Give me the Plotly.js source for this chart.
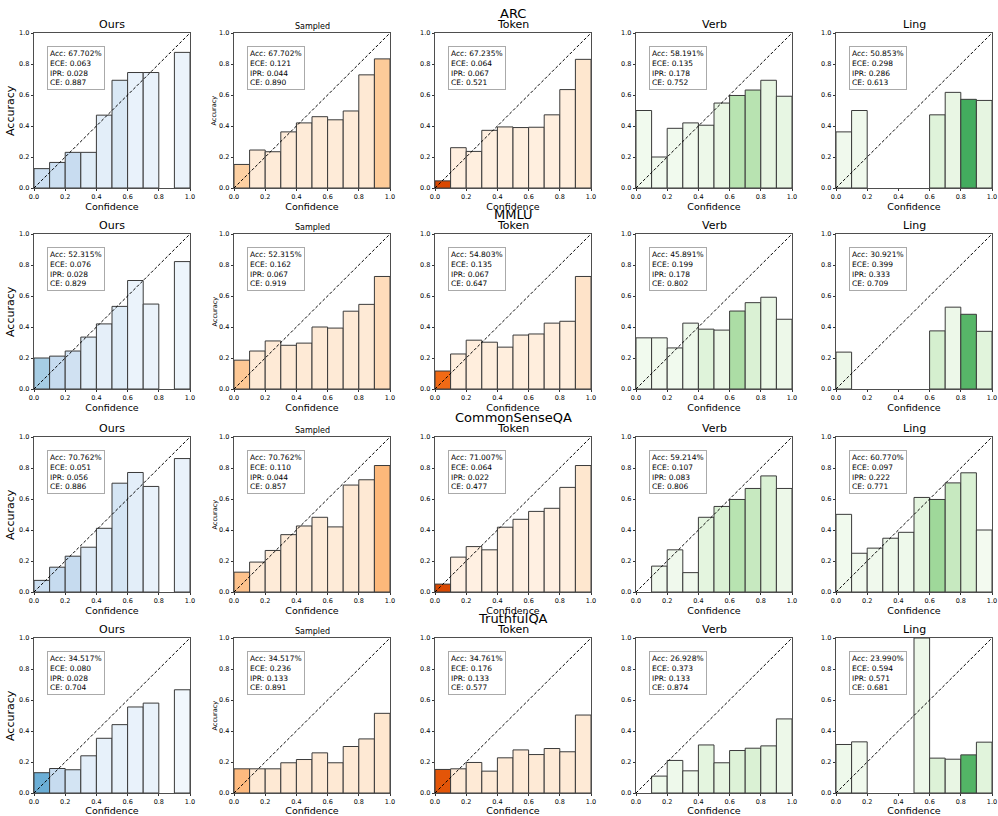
<!DOCTYPE html>
<html>
<head>
<meta charset="utf-8">
<script src="https://cdn.plot.ly/plotly-3.0.1.min.js"></script>
<style>html,body{margin:0;padding:0;background:#fff;}#chart{width:998px;height:816px;}</style>
</head>
<body>
<div id="chart"></div>
<script>
// ---------- DATA ----------
const methods = ['Ours', 'Sampled', 'Token', 'Verb', 'Ling'];
const datasets = ['ARC', 'MMLU', 'CommonSenseQA', 'TruthfulQA'];
const binCenters = [0.05, 0.15, 0.25, 0.35, 0.45, 0.55, 0.65, 0.75, 0.85, 0.95];
const ticks = [0, 0.2, 0.4, 0.6, 0.8, 1.0];

// bin accuracies, one row per method (Ours, Sampled, Token, Verb, Ling)
const arcAcc = [
  [0.125, 0.165, 0.23, 0.23, 0.47, 0.695, 0.745, 0.745, null, 0.875],
  [0.152, 0.245, 0.234, 0.362, 0.42, 0.46, 0.44, 0.497, 0.73, 0.833],
  [0.046, 0.26, 0.236, 0.372, 0.394, 0.39, 0.392, 0.472, 0.635, 0.83],
  [0.5, 0.2, 0.385, 0.42, 0.405, 0.548, 0.597, 0.632, 0.695, 0.592],
  [0.362, 0.5, null, null, null, null, 0.472, 0.617, 0.572, 0.565]
];
const mmluAcc = [
  [0.2, 0.212, 0.245, 0.335, 0.42, 0.533, 0.7, 0.548, null, 0.822],
  [0.186, 0.245, 0.31, 0.282, 0.296, 0.4, 0.393, 0.502, 0.546, 0.726],
  [0.116, 0.226, 0.315, 0.302, 0.27, 0.348, 0.355, 0.425, 0.437, 0.726],
  [0.33, 0.33, 0.265, 0.425, 0.386, 0.38, 0.503, 0.557, 0.592, 0.45],
  [0.238, null, null, null, null, null, 0.375, 0.528, 0.482, 0.372]
];
const csqaAcc = [
  [0.075, 0.16, 0.231, 0.289, 0.411, 0.702, 0.771, 0.681, null, 0.861],
  [0.128, 0.193, 0.268, 0.37, 0.426, 0.482, 0.42, 0.69, 0.724, 0.816],
  [0.051, 0.225, 0.293, 0.272, 0.418, 0.469, 0.52, 0.54, 0.675, 0.816],
  [null, 0.167, 0.272, 0.125, 0.482, 0.552, 0.597, 0.668, 0.749, 0.668],
  [0.501, 0.25, 0.283, 0.347, 0.385, 0.61, 0.597, 0.704, 0.769, 0.4]
];
const tqaAcc = [
  [0.131, 0.158, 0.15, 0.24, 0.353, 0.441, 0.555, 0.58, null, 0.666],
  [0.156, 0.156, 0.156, 0.195, 0.216, 0.259, 0.195, 0.3, 0.349, 0.514],
  [0.152, 0.156, 0.197, 0.141, 0.227, 0.278, 0.248, 0.287, 0.266, 0.503],
  [null, 0.109, 0.21, 0.143, 0.31, 0.195, 0.274, 0.289, 0.304, 0.478],
  [0.313, 0.33, null, null, null, 1.0, 0.225, 0.218, 0.246, 0.328]
];

// estimated share of samples per bin (drives the colour map shade)
const arcShare = [
  [0.22, 0.22, 0.24, 0.12, 0.1, 0.15, 0.07, 0.07, null, 0.06],
  [0.25, 0.08, 0.08, 0.08, 0.08, 0.08, 0.08, 0.08, 0.1, 0.27],
  [0.75, 0.05, 0.05, 0.05, 0.05, 0.05, 0.05, 0.05, 0.06, 0.12],
  [0.04, 0.04, 0.04, 0.04, 0.07, 0.1, 0.3, 0.3, 0.12, 0.11],
  [0.05, 0.05, null, null, null, null, 0.15, 0.1, 0.62, 0.12]
];
const mmluShare = [
  [0.35, 0.25, 0.2, 0.12, 0.09, 0.12, 0.06, 0.06, null, 0.05],
  [0.28, 0.09, 0.09, 0.09, 0.09, 0.09, 0.09, 0.09, 0.09, 0.18],
  [0.62, 0.06, 0.06, 0.06, 0.06, 0.06, 0.06, 0.06, 0.06, 0.14],
  [0.04, 0.04, 0.04, 0.06, 0.15, 0.09, 0.34, 0.17, 0.09, 0.07],
  [0.07, null, null, null, null, null, 0.19, 0.07, 0.57, 0.14]
];
const csqaShare = [
  [0.22, 0.25, 0.25, 0.13, 0.1, 0.17, 0.1, 0.07, null, 0.07],
  [0.3, 0.08, 0.08, 0.08, 0.08, 0.08, 0.08, 0.1, 0.1, 0.34],
  [0.75, 0.04, 0.04, 0.04, 0.04, 0.04, 0.04, 0.04, 0.05, 0.12],
  [null, 0.05, 0.05, 0.05, 0.13, 0.17, 0.3, 0.25, 0.17, 0.07],
  [0.04, 0.04, 0.05, 0.06, 0.06, 0.13, 0.38, 0.25, 0.17, 0.03]
];
const tqaShare = [
  [0.5, 0.25, 0.18, 0.1, 0.08, 0.08, 0.07, 0.07, null, 0.03],
  [0.33, 0.1, 0.1, 0.1, 0.1, 0.1, 0.1, 0.1, 0.1, 0.12],
  [0.7, 0.09, 0.09, 0.09, 0.09, 0.09, 0.09, 0.09, 0.09, 0.09],
  [null, 0.06, 0.06, 0.06, 0.13, 0.12, 0.16, 0.17, 0.12, 0.07],
  [0.06, 0.04, null, null, null, 0.07, 0.16, 0.1, 0.58, 0.14]
];

// summary metrics per method (Ours, Sampled, Token, Verb, Ling)
const arcMetricAcc = ['67.702', '67.702', '67.235', '58.191', '50.853'];
const arcEce = ['0.063', '0.121', '0.064', '0.135', '0.298'];
const arcIpr = ['0.028', '0.044', '0.067', '0.178', '0.286'];
const arcCe = ['0.887', '0.890', '0.521', '0.752', '0.613'];
const mmluMetricAcc = ['52.315', '52.315', '54.803', '45.891', '30.921'];
const mmluEce = ['0.076', '0.162', '0.135', '0.199', '0.399'];
const mmluIpr = ['0.028', '0.067', '0.067', '0.178', '0.333'];
const mmluCe = ['0.829', '0.919', '0.647', '0.802', '0.709'];
const csqaMetricAcc = ['70.762', '70.762', '71.007', '59.214', '60.770'];
const csqaEce = ['0.051', '0.110', '0.064', '0.107', '0.097'];
const csqaIpr = ['0.056', '0.044', '0.022', '0.083', '0.222'];
const csqaCe = ['0.886', '0.857', '0.477', '0.806', '0.771'];
const tqaMetricAcc = ['34.517', '34.517', '34.761', '26.928', '23.990'];
const tqaEce = ['0.080', '0.236', '0.176', '0.373', '0.594'];
const tqaIpr = ['0.028', '0.133', '0.133', '0.133', '0.571'];
const tqaCe = ['0.704', '0.891', '0.577', '0.874', '0.681'];

// ---------- STYLE ----------
const blues = [[0,'#f7fbff'],[0.125,'#deebf7'],[0.25,'#c6dbef'],[0.375,'#9ecae1'],[0.5,'#6baed6'],[0.625,'#4292c6'],[0.75,'#2171b5'],[0.875,'#08519c'],[1,'#08306b']];
const oranges = [[0,'#fff5eb'],[0.125,'#fee6ce'],[0.25,'#fdd0a2'],[0.375,'#fdae6b'],[0.5,'#fd8d3c'],[0.625,'#f16913'],[0.75,'#d94801'],[0.875,'#a63603'],[1,'#7f2704']];
const greens = [[0,'#f7fcf5'],[0.125,'#e5f5e0'],[0.25,'#c7e9c0'],[0.375,'#a1d99b'],[0.5,'#74c476'],[0.625,'#41ab5d'],[0.75,'#238b45'],[0.875,'#006d2c'],[1,'#00441b']];
const scales = [blues, oranges, oranges, greens, greens];
const titleSizes = [11, 8, 11, 11, 11];

const accRows = [arcAcc, mmluAcc, csqaAcc, tqaAcc];
const shareRows = [arcShare, mmluShare, csqaShare, tqaShare];
const mAcc = [arcMetricAcc, mmluMetricAcc, csqaMetricAcc, tqaMetricAcc];
const mEce = [arcEce, mmluEce, csqaEce, tqaEce];
const mIpr = [arcIpr, mmluIpr, csqaIpr, tqaIpr];
const mCe = [arcCe, mmluCe, csqaCe, tqaCe];

const W = 998, H = 816;
const colLeft = [34, 234, 435, 636, 836];
const rowTop = [33, 234, 437, 638];
const pw = 156, ph = 155;

const FONT = 'DejaVu Sans, Arial, sans-serif';
const traces = [];
const annotations = [];
const layout = {
  width: W, height: H,
  margin: {l: 0, r: 0, t: 0, b: 0},
  paper_bgcolor: '#fff', plot_bgcolor: '#fff',
  showlegend: false,
  font: {family: FONT, color: '#000'},
  annotations: annotations
};

let k = 0;
for (let r = 0; r < 4; r++) {
  for (let c = 0; c < 5; c++) {
    k++;
    const xa = 'x' + (k === 1 ? '' : k);
    const ya = 'y' + (k === 1 ? '' : k);
    const xk = 'xaxis' + (k === 1 ? '' : k);
    const yk = 'yaxis' + (k === 1 ? '' : k);
    const axCommon = {
      range: [0, 1], tickvals: ticks, tickformat: '.1f',
      ticks: 'outside', ticklen: 2.5, tickwidth: 0.8, tickcolor: '#000',
      tickfont: {size: 6.5, family: FONT, color: '#000'},
      showgrid: false, zeroline: false,
      showline: true, mirror: true, linecolor: '#222', linewidth: 0.8,
      fixedrange: true, automargin: false
    };
    layout[xk] = Object.assign({}, axCommon, {
      domain: [colLeft[c] / W, (colLeft[c] + pw) / W], anchor: ya,
      title: {text: 'Confidence', standoff: 0, font: {size: 9.5, family: FONT, color: '#000'}}
    });
    layout[yk] = Object.assign({}, axCommon, {
      domain: [1 - (rowTop[r] + ph) / H, 1 - rowTop[r] / H], anchor: xa
    });

    traces.push({
      type: 'bar', x: binCenters, y: accRows[r][c], width: 0.1,
      xaxis: xa, yaxis: ya,
      marker: {
        color: shareRows[r][c], colorscale: scales[c], cmin: 0, cmax: 1,
        line: {color: '#3a3a3a', width: 1}
      },
      hoverinfo: 'skip'
    });
    traces.push({
      type: 'scatter', mode: 'lines', x: [0, 1], y: [0, 1],
      xaxis: xa, yaxis: ya,
      line: {color: '#000', width: 1, dash: '3px,2px'},
      hoverinfo: 'skip'
    });

    // method title
    annotations.push({
      xref: xa + ' domain', yref: ya + ' domain', x: 0.5, y: 1,
      xanchor: 'center', yanchor: 'bottom', yshift: 0,
      text: methods[c], showarrow: false,
      font: {size: titleSizes[c], family: FONT, color: '#000'}
    });
    // y label
    if (c === 0) {
      annotations.push({
        xref: xa + ' domain', yref: ya + ' domain', x: 0, y: 0.5,
        xanchor: 'right', yanchor: 'middle', xshift: -15, textangle: -90,
        text: 'Accuracy', showarrow: false,
        font: {size: 11, family: FONT, color: '#000'}
      });
    } else if (c === 1) {
      annotations.push({
        xref: xa + ' domain', yref: ya + ' domain', x: 0, y: 0.5,
        xanchor: 'right', yanchor: 'middle', xshift: -14, textangle: -90,
        text: 'Accuracy', showarrow: false,
        font: {size: 6.5, family: FONT, color: '#000'}
      });
    }
    // dataset title over Token column
    if (c === 2) {
      annotations.push({
        xref: xa + ' domain', yref: ya + ' domain', x: 0.5, y: 1,
        xanchor: 'center', yanchor: 'bottom', yshift: 11, borderpad: 0,
        text: datasets[r], showarrow: false,
        font: {size: 13, family: FONT, color: '#000'}
      });
    }
    // metrics box
    annotations.push({
      xref: xa, yref: ya, x: 0.085, y: 0.915,
      xanchor: 'left', yanchor: 'top', align: 'left',
      text: 'Acc: ' + mAcc[r][c] + '%<br>ECE: ' + mEce[r][c] + '<br>IPR: ' + mIpr[r][c] + '<br>CE: ' + mCe[r][c],
      showarrow: false, bgcolor: '#fff', bordercolor: '#aaa', borderwidth: 1, borderpad: 2,
      font: {size: 7.5, family: FONT, color: '#000'}
    });
  }
}

Plotly.newPlot('chart', traces, layout, {staticPlot: true, displayModeBar: false});
</script>
</body>
</html>
